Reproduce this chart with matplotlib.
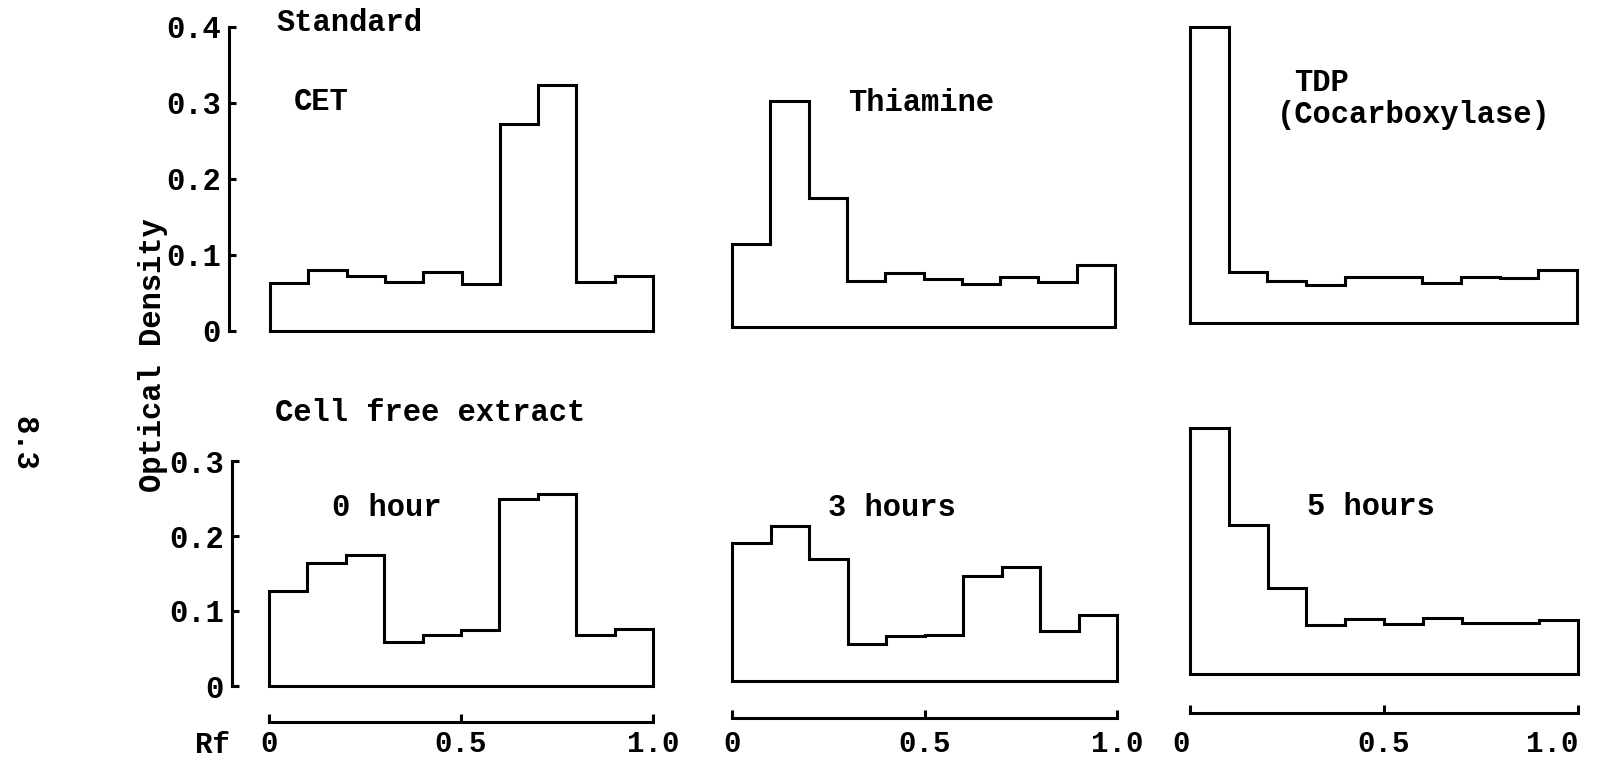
import matplotlib.pyplot as plt

W, H = 1598, 761

# Rf bin edges and optical density per bin
rf_edges = [0.0, 0.1, 0.2, 0.3, 0.4, 0.5, 0.6, 0.7, 0.8, 0.9, 1.0]
cet = [0.063, 0.080, 0.073, 0.065, 0.078, 0.062, 0.273, 0.324, 0.065, 0.073]
thiamine = [0.109, 0.297, 0.170, 0.061, 0.071, 0.063, 0.056, 0.066, 0.059, 0.082]
tdp = [0.390, 0.067, 0.055, 0.050, 0.060, 0.060, 0.053, 0.060, 0.059, 0.070]
hour0 = [0.127, 0.164, 0.175, 0.059, 0.068, 0.075, 0.250, 0.256, 0.068, 0.076]
hour3 = [0.184, 0.207, 0.163, 0.050, 0.060, 0.061, 0.140, 0.152, 0.067, 0.088]
hour5 = [0.328, 0.199, 0.115, 0.065, 0.073, 0.067, 0.075, 0.068, 0.068, 0.072]

top_yticks = [0, 0.1, 0.2, 0.3, 0.4]
top_ylabels = ['0', '0.1', '0.2', '0.3', '0.4']
bot_yticks = [0, 0.1, 0.2, 0.3]
bot_ylabels = ['0', '0.1', '0.2', '0.3']
rf_ticks = [0, 0.5, 1.0]
rf_labels = ['0', '0.5', '1.0']

plt.rcParams['font.family'] = ['Liberation Mono', 'DejaVu Sans Mono']
plt.rcParams['font.weight'] = 'bold'
FS = 22
LW = 2.2

fig = plt.figure(figsize=(W / 100, H / 100), dpi=100)
fig.patch.set_facecolor('white')


def px(x, y):
    return x / W, 1 - y / H


def panel(vals, x0, x1, base, scale, yaxis=None, rf_y=None):
    # scale: pixels per unit optical density
    top = 0.42
    left, bottom = px(x0, base)
    ax = fig.add_axes([left, bottom, (x1 - x0) / W, top * scale / H])
    ax.set_xlim(0, 1)
    ax.set_ylim(0, top)
    ax.patch.set_alpha(0)
    for s in ax.spines.values():
        s.set_visible(False)
    ax.set_xticks([])
    ax.set_yticks([])
    ax.stairs(vals, rf_edges, baseline=0, color='black', lw=LW,
              joinstyle='miter', clip_on=False)
    ax.plot([rf_edges[0], rf_edges[-1]], [0, 0], color='black', lw=LW,
            solid_capstyle='projecting', clip_on=False)
    if yaxis is not None:
        ax_x, ticks, labels = yaxis
        sp = ax.spines['left']
        sp.set_visible(True)
        sp.set_linewidth(LW)
        sp.set_position(('outward', (x0 - ax_x) * 0.72))
        sp.set_bounds(0, ticks[-1])
        ax.set_yticks(ticks)
        ax.set_yticklabels(labels, fontsize=FS)
        ax.tick_params(axis='y', direction='in', length=5, width=LW, pad=6)
    if rf_y is not None:
        sp = ax.spines['bottom']
        sp.set_visible(True)
        sp.set_linewidth(LW)
        sp.set_position(('outward', (rf_y - base) * 0.72))
        ax.set_xticks(rf_ticks)
        ax.set_xticklabels(rf_labels, fontsize=21)
        # labels sit at a fixed height near the page bottom
        ax.tick_params(axis='x', direction='in', length=6, width=LW,
                       pad=(730 - rf_y) * 0.72)
    return ax


panel(cet, 270, 653, 331, 760, yaxis=(229, top_yticks, top_ylabels))
panel(thiamine, 732, 1115, 327, 760)
panel(tdp, 1190, 1577, 323, 760)
panel(hour0, 269, 653, 686, 750, yaxis=(232, bot_yticks, bot_ylabels), rf_y=722)
panel(hour3, 732, 1117, 681, 750, rf_y=718)
ax = panel(hour5, 1190, 1578, 674, 750, rf_y=713)
ax.get_xticklabels()[-1].set_horizontalalignment('right')
ax.get_xticklabels()[0].set_horizontalalignment('right')


def label(x, y, s, **kw):
    fx, fy = px(x, y)
    fig.text(fx, fy, s, fontsize=FS, va='center', **kw)


label(276, 23, 'Standard')
label(294, 102, 'CET')
label(848, 103, 'Thiamine')
label(1294, 83, 'TDP')
label(1277, 115, '(Cocarboxylase)')
label(275, 413, 'Cell free extract')
label(332, 508, '0 hour')
label(828, 508, '3 hours')
label(1307, 507, '5 hours')
fig.text(195 / W, 1 - 745 / H, 'Rf', fontsize=21, va='center')
label(153, 355, 'Optical Density', rotation=90, ha='center')
label(23, 443, '8.3', rotation=-90, ha='center')

fig.savefig('out.png', dpi=100, facecolor='white')
